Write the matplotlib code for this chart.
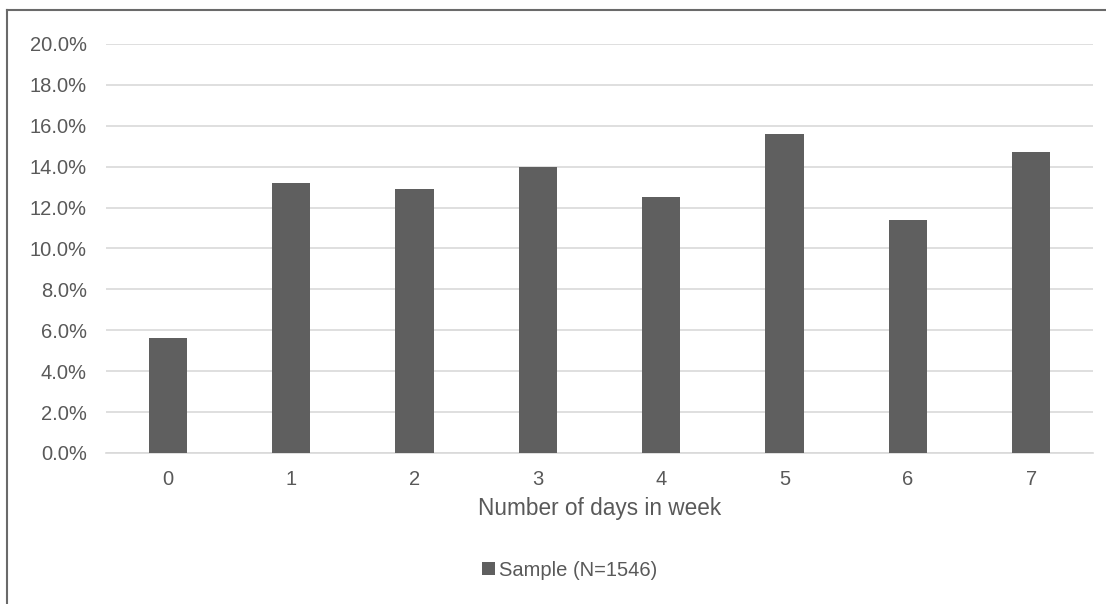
import matplotlib
matplotlib.use('Agg')
import matplotlib.pyplot as plt
from matplotlib.lines import Line2D
from matplotlib.patches import Patch
from matplotlib.ticker import FuncFormatter

plt.rcParams['font.family'] = ['Liberation Sans', 'DejaVu Sans']

days = ['0', '1', '2', '3', '4', '5', '6', '7']
share = [5.6, 13.2, 12.9, 14.0, 12.5, 15.6, 11.4, 14.7]
series_name = 'Sample (N=1546)'

bar_col = '#5f5f5f'
txt_col = '#595959'
grid_col = '#d9d9d9'

fig = plt.figure(figsize=(11.06, 6.04), dpi=100)
ax = fig.add_axes([0.0958, 0.25, 0.8924, 0.6772])

x = list(range(len(days)))
ax.bar(x, share, width=0.31, color=bar_col, zorder=3)

ax.set_xlim(-0.5, len(days) - 0.5)
ax.set_ylim(0, 20)
ax.set_yticks([0, 2, 4, 6, 8, 10, 12, 14, 16, 18, 20])
ax.yaxis.set_major_formatter(FuncFormatter(lambda v, p: f'{v:.1f}%'))
ax.set_xticks(x)
ax.set_xticklabels(days)
ax.grid(axis='y', color=grid_col, linewidth=1.2, zorder=0)
ax.tick_params(axis='both', length=0, labelsize=14.5, colors=txt_col)
ax.tick_params(axis='y', pad=13.7)
ax.tick_params(axis='x', pad=12)
for s in ['top', 'right', 'left']:
    ax.spines[s].set_visible(False)
ax.spines['bottom'].set_color(grid_col)
ax.spines['bottom'].set_linewidth(1.2)

ax.set_xlabel('Number of days in week', fontsize=16.3, color=txt_col, labelpad=6)

handle = Patch(facecolor=bar_col, edgecolor='none')
fig.legend([handle], [series_name], loc='center', bbox_to_anchor=(0.515, 0.056),
           frameon=False, fontsize=14.5, labelcolor=txt_col,
           handlelength=0.65, handleheight=0.65, handletextpad=0.2)

# outer frame (partially cropped)
fig.add_artist(Line2D([7 / 1106, 1], [1 - 10 / 604, 1 - 10 / 604], color='#6a6a6a', linewidth=1.5))
fig.add_artist(Line2D([7 / 1106, 7 / 1106], [0, 1 - 10 / 604], color='#6a6a6a', linewidth=1.5))

fig.savefig('out.png', dpi=100)
